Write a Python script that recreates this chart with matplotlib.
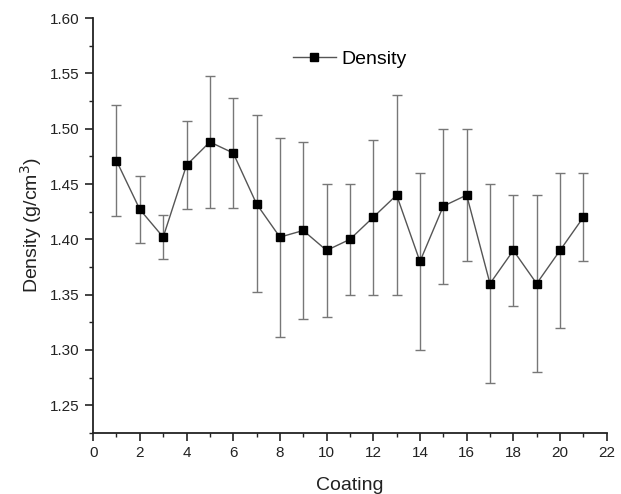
import matplotlib
matplotlib.use("Agg")
import matplotlib.pyplot as plt
from matplotlib.ticker import MultipleLocator
from matplotlib.lines import Line2D

plt.rcParams['font.family'] = ['Liberation Sans', 'DejaVu Sans']

coating = list(range(1, 22))
density = [1.471, 1.427, 1.402, 1.467, 1.488, 1.478, 1.432, 1.402, 1.408, 1.390, 1.400,
           1.420, 1.440, 1.380, 1.430, 1.440, 1.360, 1.390, 1.360, 1.390, 1.420]
error = [0.05, 0.03, 0.02, 0.04, 0.06, 0.05, 0.08, 0.09, 0.08, 0.06, 0.05,
         0.07, 0.09, 0.08, 0.07, 0.06, 0.09, 0.05, 0.08, 0.07, 0.04]
yticks = [1.25, 1.30, 1.35, 1.40, 1.45, 1.50, 1.55, 1.60]
ytick_labels = ['1.25', '1.30', '1.35', '1.40', '1.45', '1.50', '1.55', '1.60']

fig = plt.figure(figsize=(6.21, 4.94), dpi=100)
ax = fig.add_axes([0.150, 0.1235, 0.827, 0.840])

ax.errorbar(coating, density, yerr=error, color='#555555', lw=1.0,
            ecolor='#777777', elinewidth=1.0, capsize=3.6, capthick=1.0,
            marker='s', markersize=6, markerfacecolor='black', markeredgecolor='black')

ax.set_xlim(0, 22)
ax.set_ylim(1.225, 1.60)
ax.xaxis.set_major_locator(MultipleLocator(2))
ax.xaxis.set_minor_locator(MultipleLocator(1))
ax.yaxis.set_minor_locator(MultipleLocator(0.025))
ax.set_yticks(yticks)
ax.set_yticklabels(ytick_labels)

for s in ['top', 'right']:
    ax.spines[s].set_visible(False)
for s in ['left', 'bottom']:
    ax.spines[s].set_linewidth(1.3)
    ax.spines[s].set_color('#222222')

ax.tick_params(which='major', direction='out', length=5.5, width=1.2, pad=4,
               labelsize=11, colors='#222222')
ax.tick_params(which='minor', direction='out', length=3, width=1.0, colors='#222222')

ax.set_xlabel('Coating', fontsize=14, color='#222222', labelpad=12)
ax.set_ylabel('Density (g/cm$^3$)', fontsize=14, color='#222222', labelpad=4.5)

h = [Line2D([], [], color='#555555', lw=1.0, marker='s', markersize=6,
            markerfacecolor='black', markeredgecolor='black')]
ax.legend(h, ['Density'], loc='upper left', bbox_to_anchor=(0.355, 0.965), frameon=False,
          fontsize=14, handlelength=2.2, handletextpad=0.3)

fig.savefig('out.png', dpi=100)
